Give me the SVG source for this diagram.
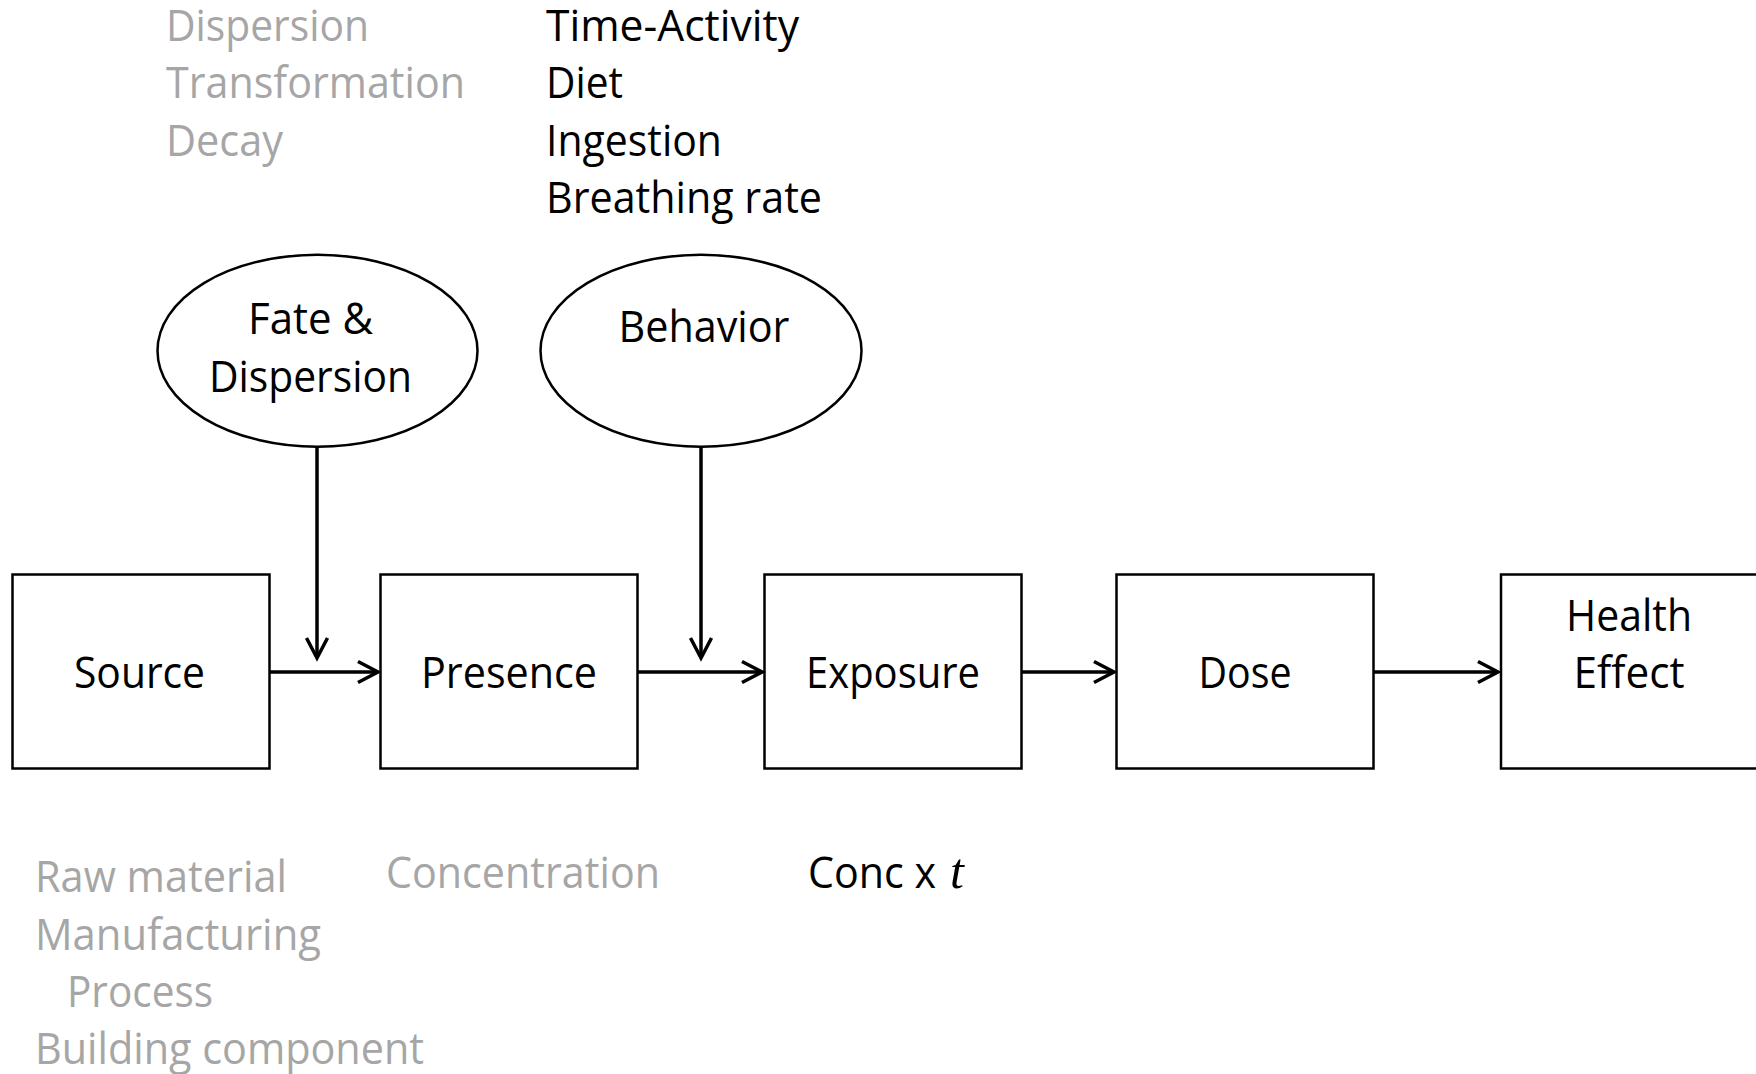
<svg xmlns="http://www.w3.org/2000/svg" width="1756" height="1074" viewBox="0 0 1756 1074">
  <style>
    .t { font-family: "Open Sans", "Noto Sans", "Liberation Sans", sans-serif; font-size: 43px; }
    .dark { fill: #000000; }
    .grey { fill: #a6a6a6; }
    .mid { text-anchor: middle; }
    .box { fill: #ffffff; stroke: #000000; stroke-width: 2.5; }
    .conn { fill: none; stroke: #000000; stroke-width: 3.5; marker-end: url(#chev); }
  </style>
  <defs>
    <marker id="chev" markerUnits="userSpaceOnUse" markerWidth="30" markerHeight="30" refX="20" refY="11" orient="auto" overflow="visible">
      <path d="M0,0.5 L20,11 L0,21.5" fill="none" stroke="#000000" stroke-width="3.5"/>
    </marker>
  </defs>

  <rect width="1756" height="1074" fill="#ffffff"/>

  <!-- fate & dispersion factors -->
  <g id="fate-notes" class="t grey">
    <text x="166" y="41" textLength="203" lengthAdjust="spacingAndGlyphs">Dispersion</text>
    <text x="166" y="98" textLength="299" lengthAdjust="spacingAndGlyphs">Transformation</text>
    <text x="166" y="155.5" textLength="117" lengthAdjust="spacingAndGlyphs">Decay</text>
  </g>

  <!-- behaviour factors -->
  <g id="behavior-notes" class="t dark">
    <text x="546" y="41" textLength="253" lengthAdjust="spacingAndGlyphs">Time-Activity</text>
    <text x="546" y="98" textLength="77" lengthAdjust="spacingAndGlyphs">Diet</text>
    <text x="546" y="155.5" textLength="176" lengthAdjust="spacingAndGlyphs">Ingestion</text>
    <text x="546" y="213" textLength="276" lengthAdjust="spacingAndGlyphs">Breathing rate</text>
  </g>

  <!-- modifier ellipses -->
  <g id="fate-dispersion">
    <ellipse cx="317.5" cy="350.7" rx="160" ry="96" class="box"/>
    <text class="t dark mid" x="310.5" y="334" textLength="125" lengthAdjust="spacingAndGlyphs">Fate &amp;</text>
    <text class="t dark mid" x="310.5" y="391.5" textLength="203" lengthAdjust="spacingAndGlyphs">Dispersion</text>
  </g>
  <g id="behavior">
    <ellipse cx="701" cy="350.7" rx="160.5" ry="96" class="box"/>
    <text class="t dark mid" x="704" y="341.5" textLength="171" lengthAdjust="spacingAndGlyphs">Behavior</text>
  </g>

  <!-- main chain -->
  <g id="source">
    <rect x="12.5" y="574.5" width="257" height="194" class="box"/>
    <text class="t dark mid" x="139.5" y="688" textLength="131" lengthAdjust="spacingAndGlyphs">Source</text>
  </g>
  <g id="presence">
    <rect x="380.5" y="574.5" width="257" height="194" class="box"/>
    <text class="t dark mid" x="509" y="688" textLength="176" lengthAdjust="spacingAndGlyphs">Presence</text>
  </g>
  <g id="exposure">
    <rect x="764.5" y="574.5" width="257" height="194" class="box"/>
    <text class="t dark mid" x="893" y="688" textLength="174" lengthAdjust="spacingAndGlyphs">Exposure</text>
  </g>
  <g id="dose">
    <rect x="1116.5" y="574.5" width="257" height="194" class="box"/>
    <text class="t dark mid" x="1245" y="688" textLength="93" lengthAdjust="spacingAndGlyphs">Dose</text>
  </g>
  <g id="health-effect">
    <rect x="1501" y="574.5" width="257" height="194" class="box"/>
    <text class="t dark mid" x="1629" y="631" textLength="126" lengthAdjust="spacingAndGlyphs">Health</text>
    <text class="t dark mid" x="1629" y="688" textLength="111" lengthAdjust="spacingAndGlyphs">Effect</text>
  </g>

  <!-- connectors -->
  <g id="connectors">
    <line class="conn" x1="317" y1="447" x2="317" y2="658"/>
    <line class="conn" x1="701" y1="447" x2="701" y2="658"/>
    <line class="conn" x1="270" y1="672" x2="378" y2="672"/>
    <line class="conn" x1="638" y1="672" x2="762" y2="672"/>
    <line class="conn" x1="1022" y1="672" x2="1114" y2="672"/>
    <line class="conn" x1="1374" y1="672" x2="1498" y2="672"/>
  </g>

  <!-- source examples -->
  <g id="source-notes" class="t grey">
    <text x="35" y="892" textLength="252" lengthAdjust="spacingAndGlyphs">Raw material</text>
    <text x="35" y="949.5" textLength="286" lengthAdjust="spacingAndGlyphs">Manufacturing</text>
    <text x="67" y="1007" textLength="146" lengthAdjust="spacingAndGlyphs">Process</text>
    <text x="35" y="1064" textLength="389" lengthAdjust="spacingAndGlyphs">Building component</text>
  </g>

  <!-- presence metric -->
  <g id="presence-notes" class="t grey">
    <text x="386" y="888" textLength="274" lengthAdjust="spacingAndGlyphs">Concentration</text>
  </g>

  <!-- exposure metric -->
  <g id="exposure-notes">
    <text class="t dark" x="808" y="888" textLength="128" lengthAdjust="spacingAndGlyphs">Conc x</text>
    <text x="950" y="888" font-family="Liberation Serif, serif" font-style="italic" font-size="50" fill="#000000">t</text>
  </g>
</svg>
